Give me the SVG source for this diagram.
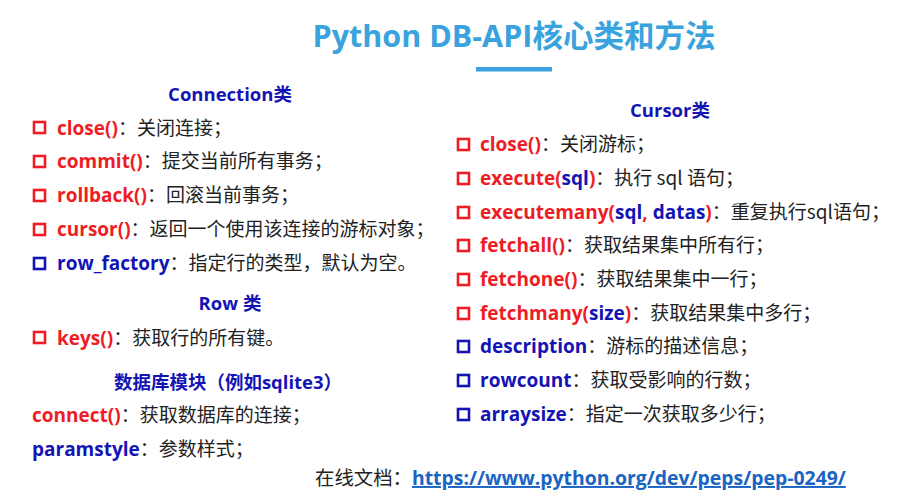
<svg xmlns="http://www.w3.org/2000/svg" width="908" height="500" viewBox="0 0 908 500">
<style>
text{font-family:"Open Sans","Noto Sans CJK SC",sans-serif;font-size:19px;fill:#222}
.t{font-size:30.5px;font-weight:bold;fill:#3aa3dd}
.h{font-weight:bold;fill:#1414b4;font-size:18.5px}
.r{font-weight:bold;fill:#ee1c24}
.b{font-weight:bold;fill:#1414b4}
.d{font-family:"Noto Sans CJK SC",sans-serif;fill:#222}
.box{fill:none;stroke-width:2.6}
.br{stroke:#ee1c24}
.bb{stroke:#1414b4}
.u{font-weight:bold;fill:#1a64c4;text-decoration:underline}
.f{font-size:19.4px}
</style>
<rect width="908" height="500" fill="#fff"/>
<g id="title">
<text class="t" x="514" y="47" text-anchor="middle">Python DB-API核心类和方法</text>
<rect x="476" y="67" width="76" height="4.5" fill="#3aa3dd"/>
</g>
<g id="connection">
<text class="h" x="230" y="101" text-anchor="middle">Connection类</text>
<rect class="box br" x="34" y="122" width="11" height="11"/>
<text x="57" y="135"><tspan class="r">close()</tspan><tspan class="d">：关闭连接；</tspan></text>
<rect class="box br" x="34" y="156" width="11" height="11"/>
<text x="57" y="168"><tspan class="r">commit()</tspan><tspan class="d">：提交当前所有事务；</tspan></text>
<rect class="box br" x="34" y="190" width="11" height="11"/>
<text x="57" y="202"><tspan class="r">rollback()</tspan><tspan class="d">：回滚当前事务；</tspan></text>
<rect class="box br" x="34" y="224" width="11" height="11"/>
<text x="57" y="236"><tspan class="r">cursor()</tspan><tspan class="d">：返回一个使用该连接的游标对象；</tspan></text>
<rect class="box bb" x="34" y="258" width="11" height="11"/>
<text x="57" y="270"><tspan class="b">row_factory</tspan><tspan class="d">：指定行的类型，默认为空。</tspan></text>
</g>
<g id="row">
<text class="h" x="230" y="310" text-anchor="middle">Row 类</text>
<rect class="box br" x="34" y="332" width="11" height="11"/>
<text x="57" y="345"><tspan class="r">keys()</tspan><tspan class="d">：获取行的所有键。</tspan></text>
</g>
<g id="module">
<text class="h" x="228" y="389" text-anchor="middle">数据库模块（例如sqlite3）</text>
<text x="32" y="422"><tspan class="r">connect()</tspan><tspan class="d">：获取数据库的连接；</tspan></text>
<text x="32" y="456"><tspan class="b">paramstyle</tspan><tspan class="d">：参数样式；</tspan></text>
</g>
<g id="cursor">
<text class="h" x="670" y="117" text-anchor="middle">Cursor类</text>
<rect class="box br" x="458" y="139" width="11" height="11"/>
<text x="480" y="151"><tspan class="r">close()</tspan><tspan class="d">：关闭游标；</tspan></text>
<rect class="box br" x="458" y="173" width="11" height="11"/>
<text x="480" y="185"><tspan class="r">execute(</tspan><tspan class="b">sql</tspan><tspan class="r">)</tspan><tspan class="d">：执行 sql 语句；</tspan></text>
<rect class="box br" x="458" y="207" width="11" height="11"/>
<text x="480" y="219"><tspan class="r">executemany(</tspan><tspan class="b">sql</tspan><tspan class="r">, </tspan><tspan class="b">datas</tspan><tspan class="r">)</tspan><tspan class="d">：重复执行sql语句；</tspan></text>
<rect class="box br" x="458" y="240" width="11" height="11"/>
<text x="480" y="252"><tspan class="r">fetchall()</tspan><tspan class="d">：获取结果集中所有行；</tspan></text>
<rect class="box br" x="458" y="274" width="11" height="11"/>
<text x="480" y="286"><tspan class="r">fetchone()</tspan><tspan class="d">：获取结果集中一行；</tspan></text>
<rect class="box br" x="458" y="308" width="11" height="11"/>
<text x="480" y="320"><tspan class="r">fetchmany(</tspan><tspan class="b">size</tspan><tspan class="r">)</tspan><tspan class="d">：获取结果集中多行；</tspan></text>
<rect class="box bb" x="458" y="341" width="11" height="11"/>
<text x="480" y="353"><tspan class="b">description</tspan><tspan class="d">：游标的描述信息；</tspan></text>
<rect class="box bb" x="458" y="375" width="11" height="11"/>
<text x="480" y="387"><tspan class="b">rowcount</tspan><tspan class="d">：获取受影响的行数；</tspan></text>
<rect class="box bb" x="458" y="409" width="11" height="11"/>
<text x="480" y="421"><tspan class="b">arraysize</tspan><tspan class="d">：指定一次获取多少行；</tspan></text>
</g>
<g id="footer">
<text class="f" x="315" y="485"><tspan class="d">在线文档：</tspan><tspan class="u">https://www.python.org/dev/peps/pep-0249/</tspan></text>
</g>
</svg>
